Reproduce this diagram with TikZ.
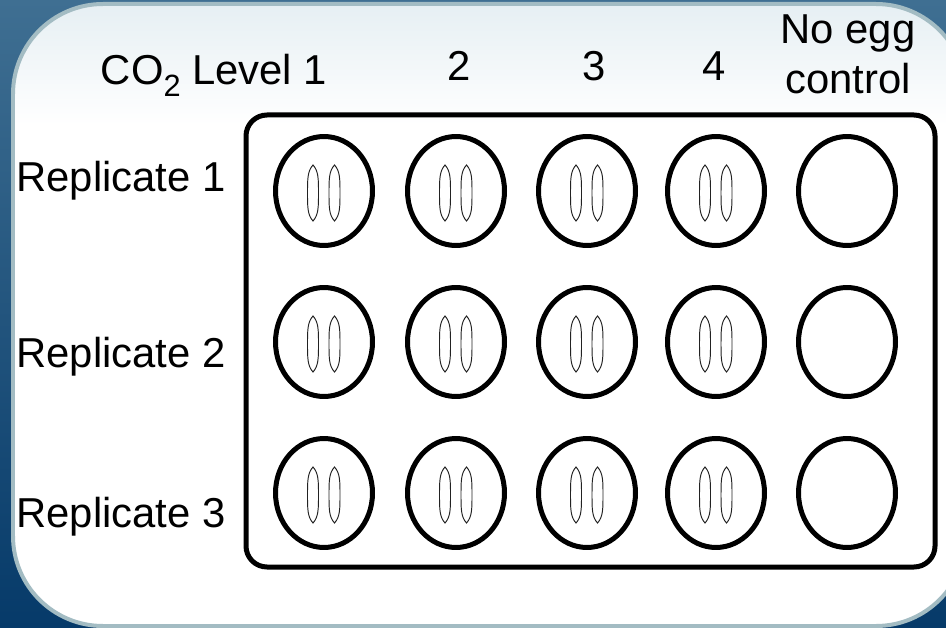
\documentclass[tikz,border=0pt]{standalone}
\usepackage{fontspec}
\setmainfont{Liberation Sans}
\usetikzlibrary{shapes.geometric}
\definecolor{BgSteel}{HTML}{3F6F92}
\definecolor{BgNavy}{HTML}{063A69}
\definecolor{PanelEdge}{HTML}{A3BCC3}
\definecolor{PanelTint}{HTML}{E6EFF3}
\definecolor{EggGrey}{HTML}{222222}

\begin{document}
\begin{tikzpicture}[
    x=0.02cm, y=-0.02cm,
    lbl/.style={font=\fontsize{23.8}{28.5}\selectfont, inner sep=0pt},
    head/.style={lbl, anchor=base},
    rep/.style={lbl, anchor=base west},
    well/.style={ellipse, draw, line width=0.1cm, inner sep=0pt,
                 minimum width=1.94cm, minimum height=2.18cm},
    egg/.style={draw=EggGrey, line width=0.55pt},
    eggwell/.style={well, path picture={
        \draw[egg, shift={(path picture bounding box.center)}]
          (-11,-26) .. controls (-5.5,-20) and (-5.5,-12) .. (-5.5,2)
                    .. controls (-5.5,16) and (-5.5,24) .. (-11,30)
                    .. controls (-16.5,24) and (-16.5,16) .. (-16.5,2)
                    .. controls (-16.5,-12) and (-16.5,-20) .. cycle;
        \draw[egg, shift={(path picture bounding box.center)}]
          (10.5,-26) .. controls (16,-20) and (16,-12) .. (16,2)
                     .. controls (16,16) and (16,24) .. (10.5,30)
                     .. controls (5,24) and (5,16) .. (5,2)
                     .. controls (5,-12) and (5,-20) .. cycle;
      }},
    plate/.style={draw, line width=0.1cm, rounded corners=0.42cm},
    panel/.style={draw=PanelEdge, line width=0.08cm, rounded corners=1.8cm},
  ]
    \useasboundingbox (0,0) rectangle (946,628);

    % ---------- backdrop ----------
    \shade[top color=BgSteel, bottom color=BgNavy] (0,0) rectangle (946,628);
    \fill[white, rounded corners=1.8cm] (13,4) rectangle (966,626);
    \begin{scope}
      \clip[rounded corners=1.8cm] (13,4) rectangle (966,626);
      \shade[top color=PanelTint, bottom color=white] (13,4) rectangle (966,125);
    \end{scope}
    \draw[panel] (13,4) rectangle (966,626);

    % ---------- column heads ----------
    \node[head] (lev1) at (214,85)
      {CO\raisebox{-6.3pt}{\fontsize{17.5}{17.5}\selectfont 2} Level 1};
    \node[head] (lev2) at (459,81) {2};
    \node[head] (lev3) at (594,81) {3};
    \node[head] (lev4) at (714,81) {4};
    \node[lbl, align=center, anchor=north] (ctrl) at (848,14) {No egg\\control};

    % ---------- row heads ----------
    \node[rep] (rep1) at (16,192) {Replicate 1};
    \node[rep] (rep2) at (16,367) {Replicate 2};
    \node[rep] (rep3) at (16,527) {Replicate 3};

    % ---------- plate ----------
    \draw[plate] (246,115) rectangle (935,567);

    % row 1
    \node[eggwell] (w11) at (324,191) {};
    \node[eggwell] (w12) at (456,191) {};
    \node[eggwell] (w13) at (587,191) {};
    \node[eggwell] (w14) at (716,191) {};
    \node[well]    (w15) at (847,191) {};
    % row 2
    \node[eggwell] (w21) at (324,342) {};
    \node[eggwell] (w22) at (456,342) {};
    \node[eggwell] (w23) at (587,342) {};
    \node[eggwell] (w24) at (716,342) {};
    \node[well]    (w25) at (847,342) {};
    % row 3
    \node[eggwell] (w31) at (324,493) {};
    \node[eggwell] (w32) at (456,493) {};
    \node[eggwell] (w33) at (587,493) {};
    \node[eggwell] (w34) at (716,493) {};
    \node[well]    (w35) at (847,493) {};
\end{tikzpicture}
\end{document}
